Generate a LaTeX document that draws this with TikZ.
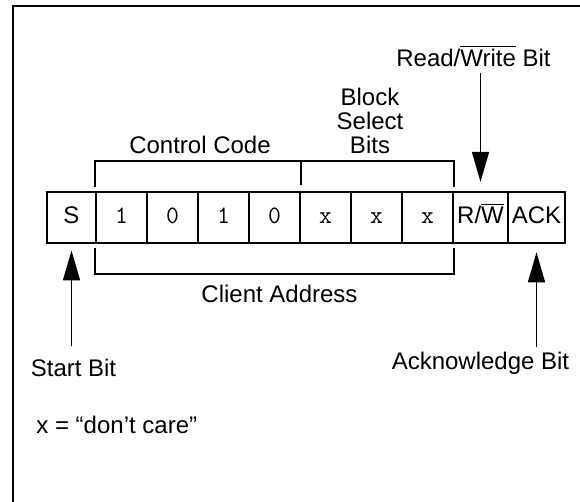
\documentclass[tikz,border=0pt]{standalone}
\usepackage{fontspec}
\setmainfont{Liberation Sans}
\usetikzlibrary{arrows.meta}
\tikzset{
    cell/.style={draw, line width=0.9pt, minimum height=25.5pt, inner sep=0pt, text height=6.1pt, text depth=0pt},
    bit/.style={cell, minimum width=25.5pt, text height=5.7pt, font=\fontsize{12.5}{12.5}\ttfamily},
    bracket/.style={line width=0.85pt},
    pointer/.style={line width=0.85pt, -{Triangle[length=15pt,width=8.5pt]}},
    note/.style={anchor=base, inner sep=0pt}
}
\begin{document}
\begin{tikzpicture}[x=0.5pt, y=-0.5pt, font=\fontsize{12}{12}\selectfont]
    \useasboundingbox (0,0) rectangle (580,502);
    % frame, only the top and left sides are in the picture
    \draw[line width=1pt] (13,520) -- (13,6.5) -- (600,6.5);
    \node[cell, minimum width=24.5pt] (s) at (71.5,217.5) {S};
    \def\w{51}
    \foreach \val [count=\i] in {1,0,1,0,x,x,x}{
        % cell i spans 96+(i-1)*w .. 96+i*w
        \node[bit] (b\i) at ({96+(\i-0.5)*\w},217.5) {\val};
    }
    \node[cell, minimum width=27.5pt] (rw) at (480.5,217.5) {R/$\overline{\hbox{W}}$};
    \node[cell, minimum width=28.5pt] (ack) at (536.5,217.5) {ACK};
    % brackets above and below the seven bits
    \draw[bracket] ([yshift=2pt]b1.north west) -- ([yshift=15pt]b1.north west) -- ([yshift=15pt]b7.north east) -- ([yshift=2pt]b7.north east);
    \draw[line width=1.3pt] ([yshift=15pt]b4.north east) -- ([yshift=3pt]b4.north east);
    \draw[bracket] ([yshift=-2pt]b1.south west) -- ([yshift=-15pt]b1.south west) -- ([yshift=-15pt]b7.south east) -- ([yshift=-2pt]b7.south east);
    \node[note] (cc) at (200,153.5) {Control Code};
    \node[note] (ca) at (279.5,303) {Client Address};
    \node[align=center] (bs) at (370,121) {Block\\Select\\Bits};
    \node[note] (rwl) at (473.5,66.5) {Read/$\overline{\hbox{Write}}$ Bit};
    \node[note] (sl) at (73.5,377) {Start Bit};
    \node[note] (al) at (480.5,370) {Acknowledge Bit};
    \node[note, anchor=base west] (dc) at (36,434) {x = “don’t care”};
    % arrows
    \draw[pointer, shorten <=2.7pt, shorten >=4.6pt] (rwl.south -| rw) -- (rw);
    \draw[pointer, shorten <=6.4pt, shorten >=3.3pt] (sl.north -| s) -- (s);
    \draw[pointer, shorten <=2.7pt, shorten >=4.2pt] (al.north -| ack) -- (ack);
\end{tikzpicture}
\end{document}
